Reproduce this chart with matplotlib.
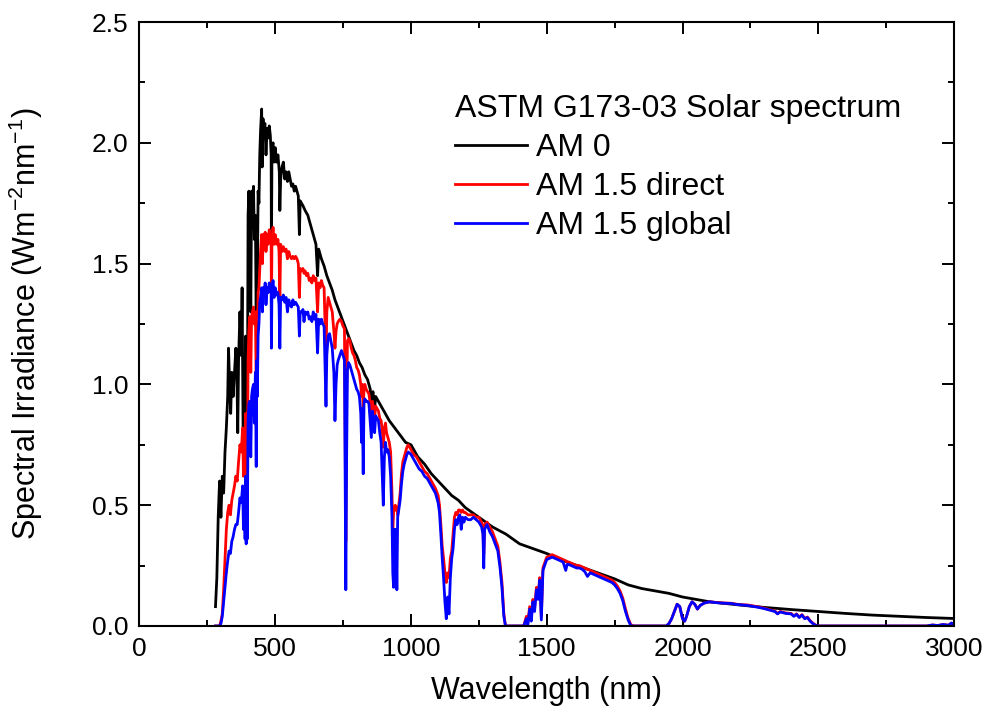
import matplotlib
matplotlib.use("Agg")
import matplotlib.pyplot as plt
from matplotlib.ticker import MultipleLocator

plt.rcParams['font.family'] = ['Liberation Sans', 'DejaVu Sans']

# AM 0 (extraterrestrial)
wl_am0 = [
    280, 285, 290, 295, 300, 305, 310, 315, 320, 325,
    328, 332, 336, 340, 345, 350, 355, 358, 362, 365,
    370, 375, 378, 382, 385, 388, 391, 393, 395, 397,
    400, 403, 406, 410, 413, 416, 420, 423, 427, 430,
    432, 434, 437, 440, 443, 446, 450, 452, 455, 458,
    462, 466, 470, 474, 478, 482, 485, 486, 488, 492,
    496, 500, 505, 510, 515, 517, 520, 525, 530, 535,
    540, 545, 550, 555, 560, 565, 570, 575, 580, 585,
    589, 592, 597, 602, 610, 620, 630, 640, 650, 656,
    660, 670, 680, 690, 700, 710, 720, 730, 740, 750,
    760, 770, 780, 790, 800, 810, 820, 830, 840, 850,
    854, 860, 866, 870, 880, 890, 900, 920, 940, 960,
    980, 1000, 1025, 1050, 1075, 1100, 1125, 1150, 1175, 1200,
    1225, 1250, 1275, 1300, 1350, 1400, 1450, 1500, 1550, 1600,
    1650, 1700, 1750, 1800, 1850, 1900, 1950, 2000, 2100, 2200,
    2300, 2400, 2500, 2600, 2700, 2800, 2900, 3000]
am0 = [
    0.08, 0.20, 0.45, 0.60, 0.45, 0.62, 0.55, 0.72, 0.82, 0.95,
    1.15, 1.00, 0.88, 1.05, 0.95, 1.05, 1.15, 1.10, 0.80, 1.10,
    1.30, 1.12, 1.40, 0.75, 1.05, 0.95, 1.20, 0.65, 1.10, 0.70,
    1.70, 1.80, 1.70, 1.30, 1.80, 1.75, 1.82, 1.60, 1.70, 1.25,
    1.65, 1.40, 1.80, 1.75, 1.95, 2.05, 2.14, 1.90, 2.10, 2.05,
    2.08, 1.95, 2.06, 2.02, 2.07, 2.03, 1.95, 1.52, 1.98, 2.00,
    1.92, 1.98, 1.92, 1.95, 1.88, 1.72, 1.85, 1.90, 1.92, 1.85,
    1.88, 1.84, 1.88, 1.85, 1.82, 1.83, 1.80, 1.82, 1.80, 1.78,
    1.62, 1.76, 1.75, 1.74, 1.72, 1.70, 1.66, 1.62, 1.58, 1.45,
    1.56, 1.52, 1.49, 1.45, 1.42, 1.39, 1.35, 1.32, 1.29, 1.26,
    1.23, 1.20, 1.17, 1.14, 1.12, 1.09, 1.07, 1.04, 1.02, 0.98,
    0.93, 0.97, 0.90, 0.95, 0.93, 0.91, 0.89, 0.85, 0.82, 0.79,
    0.76, 0.75, 0.70, 0.67, 0.63, 0.60, 0.57, 0.54, 0.52, 0.49,
    0.47, 0.45, 0.43, 0.41, 0.38, 0.34, 0.32, 0.30, 0.275, 0.255,
    0.235, 0.215, 0.195, 0.17, 0.155, 0.145, 0.135, 0.12, 0.10, 0.088,
    0.077, 0.068, 0.06, 0.052, 0.045, 0.04, 0.035, 0.031]

# AM 1.5 direct and global share one wavelength grid
wl_am15 = [
    280, 290, 295, 300, 305, 310, 315, 320, 325, 330,
    335, 340, 345, 350, 355, 360, 365, 370, 375, 380,
    383, 386, 389, 391, 393, 395, 397, 400, 403, 406,
    410, 413, 416, 420, 423, 427, 430, 432, 434, 437,
    440, 443, 446, 450, 453, 456, 460, 463, 466, 470,
    474, 478, 482, 485, 486, 488, 492, 496, 500, 505,
    510, 514, 517, 520, 525, 530, 535, 540, 545, 550,
    555, 560, 565, 570, 575, 580, 585, 589, 592, 597,
    602, 606, 610, 615, 620, 625, 630, 635, 640, 645,
    650, 656, 660, 665, 670, 675, 680, 687, 690, 695,
    700, 705, 710, 716, 720, 724, 728, 732, 738, 744,
    750, 755, 760, 763, 766, 770, 775, 780, 785, 790,
    795, 800, 805, 810, 815, 818, 821, 824, 827, 830,
    835, 840, 845, 850, 854, 858, 862, 866, 870, 875,
    880, 885, 890, 895, 898, 902, 906, 910, 915, 920,
    925, 930, 933, 936, 939, 942, 945, 948, 951, 955,
    960, 965, 970, 975, 980, 985, 990, 1000, 1010, 1020,
    1030, 1040, 1050, 1060, 1070, 1080, 1090, 1100, 1105, 1110,
    1115, 1120, 1125, 1130, 1135, 1140, 1145, 1150, 1155, 1160,
    1165, 1170, 1175, 1180, 1185, 1190, 1195, 1200, 1210, 1220,
    1230, 1240, 1250, 1260, 1265, 1268, 1271, 1280, 1290, 1300,
    1310, 1320, 1328, 1335, 1342, 1348, 1360, 1400, 1415, 1425,
    1430, 1437, 1443, 1449, 1455, 1462, 1468, 1474, 1480, 1486,
    1492, 1500, 1510, 1520, 1530, 1540, 1550, 1560, 1570, 1575,
    1580, 1590, 1600, 1610, 1620, 1630, 1640, 1650, 1660, 1670,
    1680, 1690, 1700, 1710, 1720, 1730, 1740, 1750, 1760, 1770,
    1780, 1790, 1800, 1810, 1820, 1940, 1950, 1960, 1970, 1980,
    1990, 2000, 2008, 2015, 2025, 2035, 2045, 2055, 2065, 2080,
    2100, 2120, 2140, 2160, 2180, 2200, 2220, 2240, 2260, 2280,
    2300, 2320, 2340, 2350, 2360, 2380, 2400, 2410, 2420, 2430,
    2440, 2450, 2460, 2470, 2480, 2490, 2500, 2900, 2920, 2940,
    2960, 2980, 2990, 3000]
am15_direct = [
    0, 0, 0, 0.02, 0.05, 0.15, 0.28, 0.40, 0.47, 0.50,
    0.46, 0.52, 0.55, 0.58, 0.62, 0.60, 0.68, 0.75, 0.72, 0.82,
    0.62, 0.80, 0.72, 0.88, 0.55, 0.80, 0.52, 1.10, 1.22, 1.28,
    1.05, 1.28, 1.30, 1.32, 1.25, 1.30, 1.00, 1.30, 1.15, 1.38,
    1.40, 1.48, 1.55, 1.62, 1.50, 1.62, 1.60, 1.63, 1.55, 1.62,
    1.58, 1.64, 1.60, 1.58, 1.30, 1.60, 1.65, 1.58, 1.62, 1.58,
    1.60, 1.55, 1.35, 1.58, 1.55, 1.57, 1.55, 1.56, 1.52, 1.55,
    1.53, 1.52, 1.53, 1.52, 1.53, 1.52, 1.50, 1.36, 1.48, 1.47,
    1.48, 1.46, 1.47, 1.45, 1.46, 1.43, 1.44, 1.42, 1.45, 1.43,
    1.44, 1.30, 1.42, 1.40, 1.43, 1.41, 1.40, 1.10, 1.30, 1.36,
    1.34, 1.32, 1.30, 1.22, 1.15, 1.22, 1.25, 1.26, 1.27, 1.26,
    1.24, 1.23, 0.35, 0.95, 1.18, 1.19, 1.18, 1.15, 1.13, 1.12,
    1.10, 1.07, 1.06, 1.04, 1.00, 0.95, 1.00, 0.90, 0.98, 1.00,
    0.98, 0.97, 0.96, 0.92, 0.85, 0.93, 0.90, 0.86, 0.91, 0.90,
    0.89, 0.86, 0.85, 0.80, 0.74, 0.82, 0.84, 0.80, 0.78, 0.76,
    0.72, 0.55, 0.40, 0.47, 0.48, 0.50, 0.48, 0.49, 0.46, 0.50,
    0.55, 0.63, 0.68, 0.70, 0.72, 0.74, 0.75, 0.73, 0.71, 0.70,
    0.68, 0.66, 0.64, 0.63, 0.61, 0.59, 0.57, 0.54, 0.50, 0.42,
    0.33, 0.28, 0.22, 0.18, 0.22, 0.20, 0.28, 0.31, 0.38, 0.45,
    0.47, 0.46, 0.48, 0.48, 0.47, 0.48, 0.47, 0.47, 0.46, 0.46,
    0.46, 0.45, 0.45, 0.43, 0.40, 0.30, 0.42, 0.43, 0.41, 0.39,
    0.36, 0.33, 0.26, 0.18, 0.05, 0.0, 0.0, 0.0, 0.0, 0.04,
    0.01, 0.08, 0.03, 0.11, 0.07, 0.16, 0.12, 0.20, 0.04, 0.24,
    0.26, 0.285, 0.29, 0.295, 0.29, 0.285, 0.28, 0.275, 0.27, 0.265,
    0.265, 0.26, 0.255, 0.25, 0.25, 0.245, 0.24, 0.235, 0.23, 0.225,
    0.22, 0.215, 0.21, 0.205, 0.20, 0.195, 0.19, 0.18, 0.165, 0.145,
    0.115, 0.07, 0.03, 0.005, 0.0, 0.0, 0.01, 0.03, 0.06, 0.09,
    0.08, 0.03, 0.02, 0.04, 0.08, 0.10, 0.09, 0.07, 0.085, 0.095,
    0.10, 0.098, 0.096, 0.095, 0.094, 0.09, 0.088, 0.087, 0.083, 0.079,
    0.074, 0.068, 0.062, 0.052, 0.060, 0.054, 0.052, 0.042, 0.050, 0.037,
    0.047, 0.032, 0.037, 0.022, 0.012, 0.004, 0.0, 0.0, 0.004, 0.002,
    0.006, 0.003, 0.012, 0.008]
am15_global = [
    0, 0, 0, 0.01, 0.04, 0.10, 0.16, 0.22, 0.27, 0.31,
    0.30, 0.35, 0.37, 0.40, 0.42, 0.42, 0.47, 0.53, 0.51, 0.58,
    0.40, 0.56, 0.36, 0.62, 0.34, 0.56, 0.36, 0.85, 0.92, 0.93,
    0.70, 0.95, 0.98, 1.00, 0.84, 1.05, 0.66, 1.10, 0.95, 1.20,
    1.25, 1.34, 1.36, 1.40, 1.30, 1.40, 1.38, 1.42, 1.33, 1.40,
    1.38, 1.42, 1.40, 1.38, 1.15, 1.40, 1.43, 1.36, 1.40, 1.37,
    1.38, 1.33, 1.15, 1.36, 1.35, 1.37, 1.34, 1.36, 1.30, 1.35,
    1.33, 1.32, 1.35, 1.33, 1.34, 1.33, 1.32, 1.20, 1.30, 1.30,
    1.31, 1.26, 1.30, 1.29, 1.30, 1.27, 1.28, 1.26, 1.30, 1.27,
    1.29, 1.13, 1.27, 1.25, 1.27, 1.25, 1.24, 0.91, 1.12, 1.20,
    1.21, 1.18, 1.15, 1.05, 0.85, 1.00, 1.08, 1.10, 1.12, 1.14,
    1.12, 1.10, 0.15, 0.70, 1.06, 1.09, 1.08, 1.06, 1.04, 1.02,
    1.00, 0.98, 0.97, 0.95, 0.88, 0.76, 0.90, 0.63, 0.92, 0.94,
    0.93, 0.93, 0.92, 0.84, 0.78, 0.89, 0.84, 0.80, 0.87, 0.86,
    0.85, 0.80, 0.76, 0.60, 0.50, 0.70, 0.76, 0.72, 0.73, 0.70,
    0.62, 0.45, 0.22, 0.16, 0.40, 0.18, 0.40, 0.15, 0.45, 0.48,
    0.52, 0.59, 0.64, 0.67, 0.69, 0.71, 0.72, 0.71, 0.69, 0.67,
    0.65, 0.64, 0.62, 0.61, 0.59, 0.57, 0.55, 0.51, 0.47, 0.38,
    0.28, 0.20, 0.10, 0.03, 0.12, 0.05, 0.20, 0.28, 0.32, 0.40,
    0.44, 0.42, 0.45, 0.46, 0.40, 0.45, 0.43, 0.45, 0.44, 0.44,
    0.45, 0.44, 0.43, 0.41, 0.38, 0.24, 0.40, 0.42, 0.39, 0.37,
    0.34, 0.31, 0.24, 0.16, 0.04, 0.0, 0.0, 0.0, 0.0, 0.03,
    0.0, 0.07, 0.02, 0.10, 0.06, 0.15, 0.11, 0.19, 0.025, 0.23,
    0.25, 0.275, 0.28, 0.285, 0.28, 0.275, 0.27, 0.265, 0.23, 0.255,
    0.255, 0.25, 0.245, 0.24, 0.24, 0.235, 0.225, 0.205, 0.22, 0.215,
    0.21, 0.205, 0.20, 0.195, 0.19, 0.185, 0.18, 0.17, 0.155, 0.135,
    0.105, 0.06, 0.025, 0.0, 0.0, 0.0, 0.01, 0.03, 0.06, 0.09,
    0.08, 0.03, 0.02, 0.04, 0.08, 0.10, 0.09, 0.07, 0.085, 0.095,
    0.10, 0.097, 0.095, 0.094, 0.093, 0.089, 0.087, 0.085, 0.081, 0.077,
    0.072, 0.066, 0.06, 0.05, 0.058, 0.052, 0.05, 0.04, 0.048, 0.035,
    0.045, 0.03, 0.035, 0.02, 0.01, 0.003, 0.0, 0.0, 0.004, 0.002,
    0.006, 0.003, 0.012, 0.008]

labels = ['AM 0', 'AM 1.5 direct', 'AM 1.5 global']
colors = ['black', 'red', 'blue']

fig = plt.figure(figsize=(9.87, 7.15), dpi=100)
ax = fig.add_axes([0.1413, 0.1245, 0.8253, 0.8447])

ax.plot(wl_am0, am0, color=colors[0], lw=2, label=labels[0])
ax.plot(wl_am15, am15_direct, color=colors[1], lw=2, label=labels[1])
ax.plot(wl_am15, am15_global, color=colors[2], lw=2, label=labels[2])

ax.set_xlim(0, 3000)
ax.set_ylim(0, 2.5)
ax.xaxis.set_major_locator(MultipleLocator(500))
ax.xaxis.set_minor_locator(MultipleLocator(250))
ax.yaxis.set_major_locator(MultipleLocator(0.5))
ax.yaxis.set_minor_locator(MultipleLocator(0.25))
ax.yaxis.set_major_formatter(matplotlib.ticker.FormatStrFormatter('%.1f'))
ax.tick_params(which='both', direction='in', top=True, right=True,
               width=1.4, labelsize=19)
ax.tick_params(which='major', length=8.5, pad=8)
ax.tick_params(which='minor', length=4)
for s in ax.spines.values():
    s.set_linewidth(1.5)

ax.set_xlabel('Wavelength (nm)', fontsize=22, labelpad=11)
ax.set_ylabel('Spectral Irradiance (Wm$^{\\mathregular{-2}}$nm$^{\\mathregular{-1}}$)',
              fontsize=22, labelpad=34)

leg = ax.legend(title='ASTM G173-03 Solar spectrum', loc='upper left',
                bbox_to_anchor=(455 / 987, 1 - 94 / 715),
                bbox_transform=fig.transFigure, frameon=False,
                fontsize=23, title_fontsize=23, alignment='left',
                handlelength=2.25, handletextpad=0.28, labelspacing=0.28,
                borderpad=0, borderaxespad=0)
for line in leg.get_lines():
    line.set_linewidth(2)

fig.savefig('out.png', dpi=100)
